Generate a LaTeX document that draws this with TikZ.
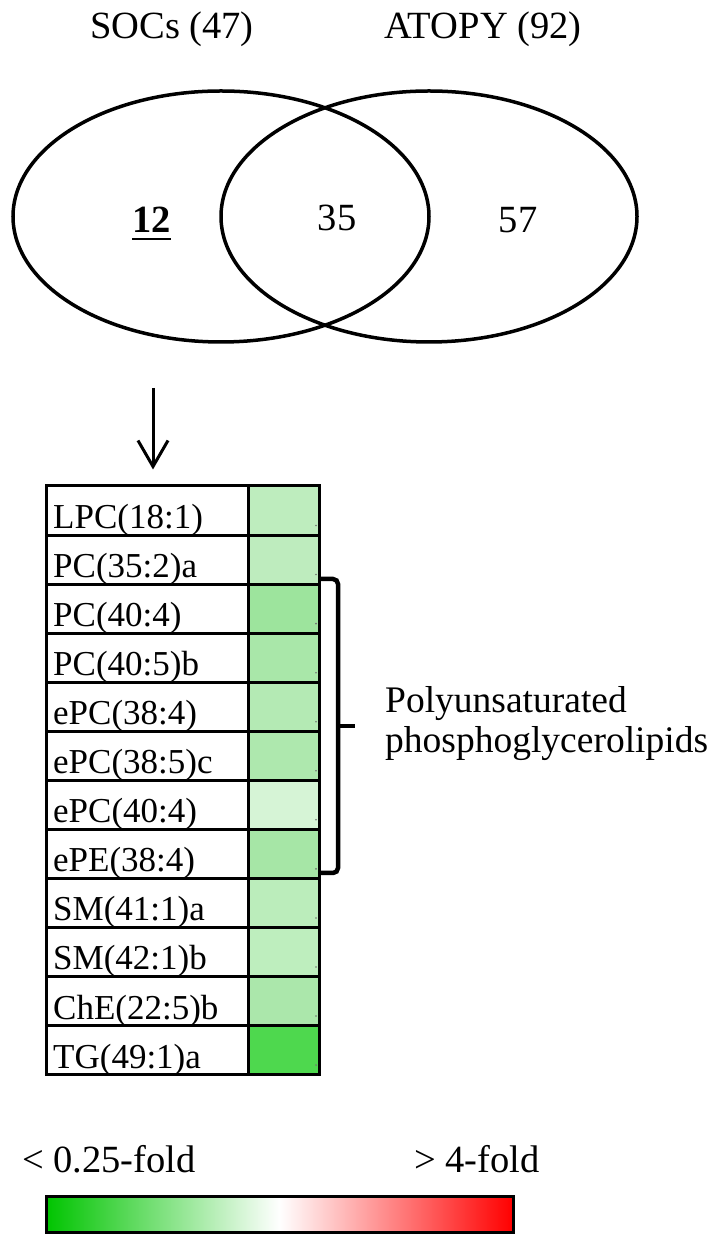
\documentclass[tikz,border=0pt]{standalone}
\usepackage{fontspec}
\setmainfont{Liberation Serif}
\usetikzlibrary{arrows.meta,calc,shapes.geometric}
\definecolor{cA}{HTML}{BEEDBE}
\definecolor{cB}{HTML}{BEECBE}
\definecolor{cC}{HTML}{9DE49D}
\definecolor{cD}{HTML}{A9E7A9}
\definecolor{cE}{HTML}{B4EAB4}
\definecolor{cF}{HTML}{AEE8AE}
\definecolor{cG}{HTML}{D6F4D6}
\definecolor{cH}{HTML}{A6E6A6}
\definecolor{cI}{HTML}{BBEDBB}
\definecolor{cJ}{HTML}{BEEEBE}
\definecolor{cK}{HTML}{ABE7AB}
\definecolor{cL}{HTML}{4ED84E}
\definecolor{gbar}{RGB}{0,196,0}
\definecolor{rbar}{RGB}{255,0,0}
\begin{document}
\begin{tikzpicture}[x=1pt,y=1pt,
  venn/.style={draw=black,line width=3.5pt,ellipse,minimum width=416pt,minimum height=251pt,inner sep=0pt},
  lbl/.style={inner sep=0pt,font=\fontsize{38.5}{40}\selectfont},
  namecell/.style={draw=black,line width=3pt,minimum width=202pt,minimum height=49.05pt,inner sep=0pt,anchor=north west},
  colcell/.style={draw=black,line width=3pt,minimum width=71pt,minimum height=49.05pt,inner sep=0pt,anchor=north west},
  celltext/.style={inner sep=0pt,anchor=base west,font=\fontsize{35}{40}\selectfont},
  arr/.style={line width=3pt,-{Straight Barb[length=26pt,width=30pt]}},
  bracket/.style={line width=4.5pt,rounded corners=5pt},
  scalelbl/.style={inner sep=0pt,anchor=base west,font=\fontsize{38.5}{40}\selectfont},
]
\useasboundingbox (0,0) rectangle (714,1235);
\fill[white] (0,0) rectangle (714,1235);

% Venn diagram
\node[venn] (soc) at (221,1018.5) {};
\node[venn] (ato) at (429,1018.5) {};
\node[lbl,anchor=base] (tsoc) at (172,1196) {SOCs (47)};
\node[lbl,anchor=base] (tato) at (483,1196) {ATOPY (92)};
\node[lbl,anchor=base] (v12) at (151.5,1002) {\textbf{12}};
\draw[line width=2.8pt] ([yshift=-6pt]v12.base west) -- ([yshift=-6pt]v12.base east);
\node[lbl,anchor=base] (v35) at (337,1004) {35};
\node[lbl,anchor=base] (v57) at (518,1002) {57};

% Table
\foreach \t/\c [count=\i] in {LPC(18:1)/cA,PC(35:2)a/cB,PC(40:4)/cC,PC(40:5)b/cD,ePC(38:4)/cE,ePC(38:5)c/cF,ePC(40:4)/cG,ePE(38:4)/cH,SM(41:1)a/cI,SM(42:1)b/cJ,ChE(22:5)b/cK,TG(49:1)a/cL}{
  \pgfmathsetmacro\ty{750.5-49.05*(\i-1)}
  \node[namecell] (n\i) at (45,\ty) {};
  \node[colcell,fill=\c] (c\i) at (247,\ty) {};
  \node[celltext] (t\i) at ($(n\i.south west)+(8,8)$) {\t};
  \fill[black!55] ($(c\i.south east)+(-5,11)$) circle (0.9pt);
}

% Arrow from the Venn region to the table
\coordinate (atop) at (153,847);
\draw[arr,shorten >=15pt] (atop) -- (atop |- n1.north);

% Bracket
\coordinate (btop) at (320,656);
\coordinate (bbot) at (320,362);
\coordinate (bmid) at (338,509);
\draw[bracket] (btop) -| (338,362) -- (bbot);
\draw[line width=4.5pt] (bmid) -- ++(17,0);
\node[inner sep=0pt,anchor=west,align=left,font=\fontsize{37.5}{40}\selectfont] (poly) at (385,511) {Polyunsaturated\\phosphoglycerolipids};

% Colour scale
\node[scalelbl] (lo) at (22,62) {< 0.25-fold};
\node[scalelbl] (hi) at (414,62) {> 4-fold};
\node[draw=black,line width=3pt,minimum width=467pt,minimum height=36pt,inner sep=0pt,
      left color=gbar,right color=rbar,middle color=white] (bar) at (279.5,20) {};
\end{tikzpicture}
\end{document}
